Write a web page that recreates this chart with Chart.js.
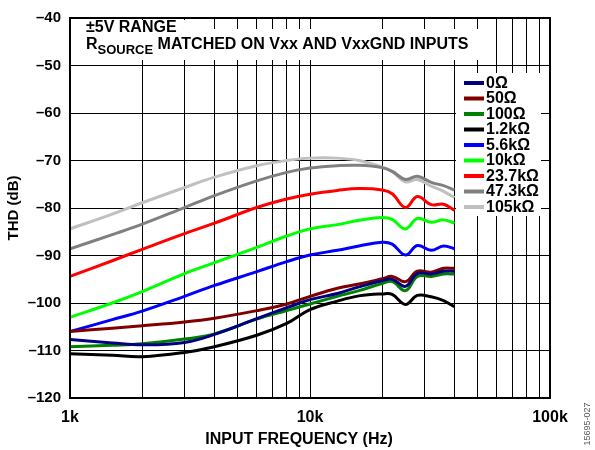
<!DOCTYPE html>
<html><head><meta charset="utf-8">
<script src="https://cdn.jsdelivr.net/npm/chart.js@4"></script>
<style>html,body{margin:0;padding:0;background:#fff}#wrap{width:595px;height:450px}</style>
</head><body><div id="wrap"><canvas id="c" width="595" height="450"></canvas></div>
<script>
const freqs = [1000,1500,2000,3000,4000,6000,8000,10000,13000,16000,20000,22000,25000,28000,32000,36000,40000];
const r0Ohm   = [-107.7,-108.4,-108.8,-108.3,-106.6,-103.3,-101.0,-99.3,-98.0,-96.6,-95.3,-95.0,-96.5,-93.8,-93.9,-93.3,-93.3];
const r50Ohm  = [-106.0,-105.3,-104.8,-104.0,-103.2,-101.6,-100.2,-98.6,-96.9,-96.0,-94.9,-94.4,-95.5,-93.3,-93.5,-92.7,-92.7];
const r100Ohm = [-109.2,-108.9,-108.6,-107.6,-106.5,-103.4,-101.6,-100.2,-98.6,-97.4,-95.9,-95.5,-97.4,-94.4,-94.4,-93.9,-93.9];
const r1k2    = [-110.7,-111.0,-111.3,-110.4,-109.2,-106.8,-104.3,-101.4,-99.6,-98.5,-98.1,-98.2,-100.3,-98.4,-98.7,-99.5,-100.8];
const r5k6    = [-106.0,-103.5,-101.7,-98.6,-96.3,-93.4,-91.3,-89.9,-88.9,-88.0,-87.2,-87.6,-89.9,-87.9,-88.9,-88.0,-88.6];
const r10k    = [-103.0,-100.0,-97.6,-93.8,-91.5,-88.3,-85.9,-84.4,-83.5,-82.6,-82.0,-82.4,-84.4,-82.2,-83.0,-82.5,-83.2];
const r23k7   = [-94.4,-91.1,-88.7,-85.4,-83.2,-79.9,-78.1,-77.1,-76.3,-75.9,-76.2,-77.0,-79.9,-77.6,-79.3,-79.2,-80.5];
const r47k3   = [-88.6,-85.6,-83.4,-79.9,-77.4,-74.3,-72.5,-71.6,-71.1,-71.0,-71.5,-72.3,-74.0,-73.3,-74.6,-75.3,-76.2];
const r105k   = [-84.4,-81.3,-78.9,-75.7,-73.5,-71.1,-70.0,-69.5,-69.5,-70.0,-71.4,-72.3,-74.5,-74.0,-75.4,-76.5,-77.8];

const seriesValues = [r0Ohm, r50Ohm, r100Ohm, r1k2, r5k6, r10k, r23k7, r47k3, r105k];
const seriesLabels = ['0Ω','50Ω','100Ω','1.2kΩ','5.6kΩ','10kΩ','23.7kΩ','47.3kΩ','105kΩ'];
const seriesColors = ['#000080','#800000','#008000','#000000','#0000ff','#00ff00','#ff0000','#808080','#c0c0c0'];

const xGrid = [1000,2000,3000,4000,5000,6000,7000,8000,9000,10000,20000,30000,40000,50000,60000,70000,80000,90000,100000];
const xLabelValues = [1000,10000,100000];
const xLabelTexts = ['1k','10k','100k'];
const yMin = -120, yMax = -40, yStep = 10;

const note1 = '±5V RANGE';
const noteR = 'R', noteSub = 'SOURCE', noteRest = ' MATCHED ON Vxx AND VxxGND INPUTS';
const xTitle = 'INPUT FREQUENCY (Hz)', yTitle = 'THD (dB)', figId = '15695-027';

const FONT = '"Liberation Sans", Arial, sans-serif';

const overlay = {
  id: 'overlay',
  beforeDatasetsDraw(chart) {
    const ctx = chart.ctx;
    ctx.save();
    ctx.fillStyle = '#fff';
    ctx.fillRect(82, 20, 108, 15);
    ctx.fillRect(82, 29, 396, 31);
    ctx.fillRect(456, 73, 85, 143);
    chart.data.datasets.forEach((d, i) => {
      const y = 83 + i * 15.5;
      ctx.strokeStyle = d.borderColor; ctx.lineWidth = 4; ctx.lineCap = 'butt';
      ctx.beginPath(); ctx.moveTo(464, y); ctx.lineTo(484, y); ctx.stroke();
      ctx.fillStyle = '#000'; ctx.font = 'bold 16px ' + FONT;
      ctx.textBaseline = 'middle'; ctx.textAlign = 'left';
      ctx.fillText(d.label, 486, y + 0.5);
    });
    ctx.fillStyle = '#000';
    ctx.textBaseline = 'alphabetic'; ctx.textAlign = 'left';
    ctx.font = 'bold 16px ' + FONT;
    ctx.fillText(note1, 86, 32);
    ctx.fillText(noteR, 86, 48.5);
    const w = ctx.measureText(noteR).width;
    ctx.font = 'bold 13px ' + FONT;
    ctx.fillText(noteSub, 86 + w, 54);
    const w2 = ctx.measureText(noteSub).width;
    ctx.font = 'bold 16px ' + FONT;
    ctx.fillText(noteRest, 86 + w + w2, 48.5);
    ctx.restore();
  },
  afterDraw(chart) {
    const ctx = chart.ctx, a = chart.chartArea;
    ctx.save();
    ctx.strokeStyle = '#000'; ctx.lineWidth = 2;
    ctx.strokeRect(a.left, a.top, a.right - a.left, a.bottom - a.top);
    ctx.fillStyle = '#000';
    ctx.font = 'bold 16px ' + FONT;
    ctx.textAlign = 'center'; ctx.textBaseline = 'middle';
    ctx.fillText(xTitle, 299, 440);
    ctx.translate(588, 424);
    ctx.rotate(-Math.PI / 2);
    ctx.font = '9px ' + FONT; ctx.fillStyle = '#555';
    ctx.fillText(figId, 0, 0);
    ctx.restore();
  }
};

new Chart(document.getElementById('c'), {
  type: 'line',
  data: {
    datasets: seriesValues.map((vals, i) => ({
      label: seriesLabels[i],
      data: freqs.map((f, j) => ({ x: f, y: vals[j] })),
      borderColor: seriesColors[i],
      backgroundColor: seriesColors[i],
      borderWidth: 3,
      pointRadius: 0,
      tension: 0.4,
      fill: false
    }))
  },
  options: {
    responsive: false,
    animation: false,
    devicePixelRatio: 1,
    layout: { padding: { top: 13, right: 45, left: 0, bottom: 0 } },
    plugins: { legend: { display: false }, tooltip: { enabled: false } },
    scales: {
      x: {
        type: 'logarithmic',
        min: 1000, max: 100000,
        afterBuildTicks: s => { s.ticks = xGrid.map(v => ({ value: v })); },
        afterFit: s => { s.height = 52; },
        grid: { color: '#000', lineWidth: 1, drawTicks: false },
        border: { color: '#000', width: 2 },
        ticks: {
          autoSkip: false, maxRotation: 0, padding: 10, color: '#000',
          font: { family: FONT, size: 16, weight: 'bold' },
          callback: v => { const k = xLabelValues.indexOf(v); return k >= 0 ? xLabelTexts[k] : ''; }
        },
        title: { display: false, text: xTitle }
      },
      y: {
        min: yMin, max: yMax,
        afterFit: s => { s.width = 70; },
        grid: { color: '#000', lineWidth: 1, drawTicks: false },
        border: { color: '#000', width: 2 },
        ticks: {
          stepSize: yStep, padding: 9, color: '#000',
          font: { family: FONT, size: 15, weight: 'bold' },
          callback: v => v < 0 ? '–' + Math.abs(v) : String(v)
        },
        title: { display: true, text: yTitle, color: '#000', padding: { top: 5, bottom: 0 },
          font: { family: FONT, size: 15, weight: 'bold' } }
      }
    }
  },
  plugins: [overlay]
});
</script></body></html>
